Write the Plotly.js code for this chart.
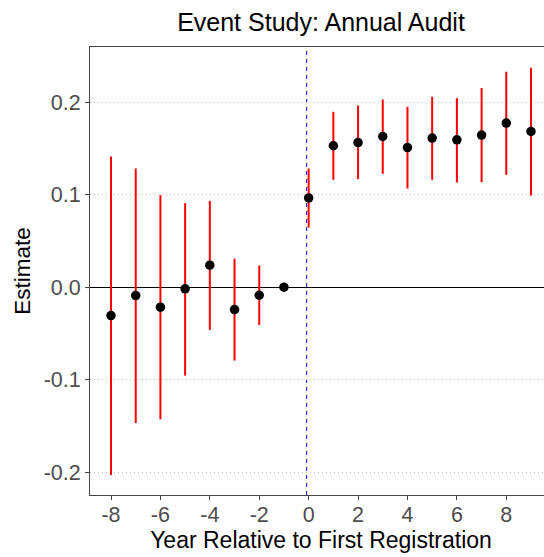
<!DOCTYPE html>
<html>
<head>
<meta charset="utf-8">
<script src="https://cdn.plot.ly/plotly-3.0.1.min.js"></script>
<style>
html,body{margin:0;padding:0;overflow:hidden;background:#fff;}
#chart{width:558px;height:557px;}
</style>
</head>
<body>
<div id="chart"></div>
<script>
const years = [-8,-7,-6,-5,-4,-3,-2,-1,0,1,2,3,4,5,6,7,8,9];
const estimate = [-0.0307,-0.0091,-0.0216,-0.0018,0.0238,-0.0242,-0.0087,0,0.0965,0.1528,0.1563,0.1628,0.1509,0.1611,0.1592,0.1643,0.1773,0.1682];
const upper = [0.1412,0.1282,0.0995,0.0908,0.0933,0.0309,0.0234,0,0.1282,0.1895,0.1963,0.2028,0.1949,0.2057,0.2043,0.2151,0.2328,0.2371];
const lower = [-0.2029,-0.1467,-0.1427,-0.0955,-0.0462,-0.0793,-0.0408,0,0.0644,0.1160,0.1168,0.1225,0.1066,0.1160,0.1131,0.1135,0.1214,0.0990];
const eventLine = -0.08;
const yTicks = [-0.2,-0.1,0.0,0.1,0.2];
const yTickText = ['-0.2','-0.1','0.0','0.1','0.2'];
const xTicks = [-8,-6,-4,-2,0,2,4,6,8];

const font = 'Liberation Sans, Arial, sans-serif';

const trace = {
  x: years,
  y: estimate,
  type: 'scatter',
  mode: 'markers',
  marker: {color: '#000', size: 9.5},
  error_y: {
    type: 'data',
    symmetric: false,
    array: upper.map((u,i)=>u-estimate[i]),
    arrayminus: estimate.map((e,i)=>e-lower[i]),
    color: '#ff0000',
    thickness: 2,
    width: 0
  },
  hoverinfo: 'skip'
};

const layout = {
  width: 558,
  height: 557,
  margin: {l: 90, r: 5.5, t: 47.3, b: 62},
  paper_bgcolor: '#fff',
  plot_bgcolor: '#fff',
  showlegend: false,
  title: {
    text: 'Event Study: Annual Audit',
    font: {family: font, size: 25, color: '#000'},
    x: 0.5, xref: 'paper', xanchor: 'center',
    y: 1 - 22 / 557, yref: 'container', yanchor: 'middle'
  },
  xaxis: {
    range: [-8.85, 9.85],
    tickvals: xTicks,
    ticktext: xTicks.map(String),
    showgrid: false,
    zeroline: false,
    showline: true, mirror: true, linecolor: '#444', linewidth: 1,
    ticks: 'outside', ticklen: 4, tickcolor: '#444', tickwidth: 1,
    ticklabelstandoff: -4,
    tickfont: {family: font, size: 21.5, color: '#4d4d4d'},
    title: {text: 'Year Relative to First Registration', font: {family: font, size: 23, color: '#000'}, standoff: 0}
  },
  yaxis: {
    range: [-0.2245, 0.2595],
    tickvals: yTicks,
    ticktext: yTickText,
    showgrid: true, gridcolor: '#bdbdbd', gridwidth: 1, griddash: '1px,3px',
    zeroline: true, zerolinecolor: '#000', zerolinewidth: 1,
    showline: true, mirror: true, linecolor: '#444', linewidth: 1,
    ticks: 'outside', ticklen: 4, tickcolor: '#444', tickwidth: 1,
    tickfont: {family: font, size: 21.5, color: '#4d4d4d'},
    title: {text: 'Estimate', font: {family: font, size: 22.5, color: '#000'}, standoff: 6}
  },
  shapes: [{
    type: 'line', xref: 'x', yref: 'paper',
    x0: eventLine, x1: eventLine, y0: 0, y1: 1,
    line: {color: '#0000ff', width: 1, dash: '4px,4px'},
    layer: 'below'
  }]
};

Plotly.newPlot('chart', [trace], layout, {displayModeBar: false, staticPlot: true});
</script>
</body>
</html>
